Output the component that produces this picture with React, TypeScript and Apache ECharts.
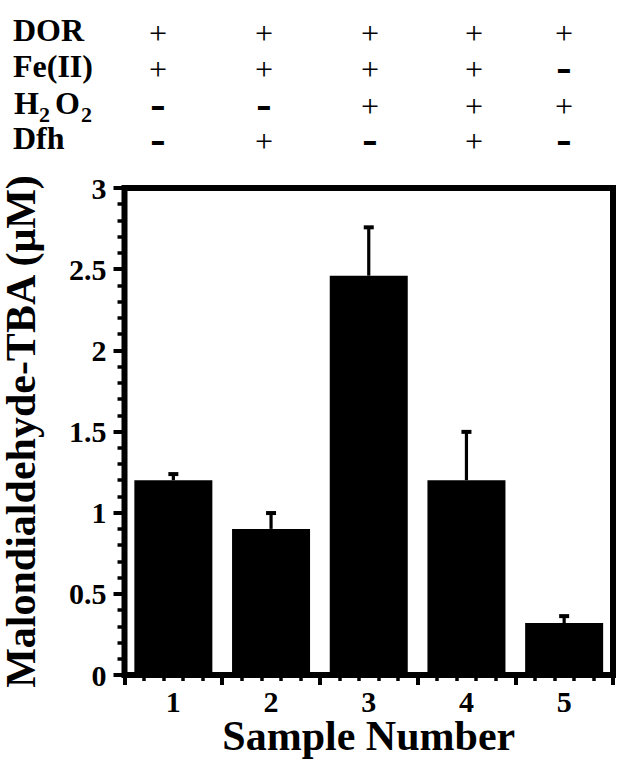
import React, { useEffect, useRef } from "react";
import * as echarts from "echarts";

const categories = ["1", "2", "3", "4", "5"];
const values = [1.2, 0.9, 2.46, 1.2, 0.32];
const errors = [0.05, 0.11, 0.31, 0.31, 0.055];
const conditionLabels = ["DOR", "Fe(II)", "H2O2", "Dfh"];
const conditionSigns = [
  ["+", "+", "+", "+", "+"],
  ["+", "+", "+", "+", "-"],
  ["-", "-", "+", "+", "+"],
  ["-", "+", "-", "+", "-"],
];

const FONT = '"Liberation Serif", "Times New Roman", serif';
const ROW_Y = [30, 66, 103, 138];
const COL_X = [158, 264, 370, 474, 564];

export default function App() {
  const ref = useRef<HTMLDivElement>(null);

  useEffect(() => {
    document.body.style.margin = "0";
    const chart = echarts.init(ref.current!, null, { renderer: "svg" });

    const graphics: any[] = [];
    conditionLabels.forEach((lab, r) => {
      if (lab === "H2O2") {
        const parts = [
          { t: "H", x: 14, sub: false },
          { t: "2", x: 39, sub: true },
          { t: "O", x: 55, sub: false },
          { t: "2", x: 81, sub: true },
        ];
        parts.forEach((p) =>
          graphics.push({
            type: "text",
            x: p.x,
            y: ROW_Y[r] + (p.sub ? 11 : 0),
            style: {
              text: p.t,
              font: `bold ${p.sub ? 22 : 32}px ${FONT}`,
              lineHeight: p.sub ? 18 : 30,
              fill: "#000",
              textAlign: "left",
              textVerticalAlign: "middle",
            },
          })
        );
      } else {
        graphics.push({
          type: "text",
          x: 13,
          y: ROW_Y[r],
          style: {
            text: lab,
            font: `bold 32px ${FONT}`,
            lineHeight: 30,
            fill: "#000",
            textAlign: "left",
            textVerticalAlign: "middle",
          },
        });
      }
      conditionSigns[r].forEach((s, c) => {
        graphics.push({
          type: "text",
          x: COL_X[c],
          y: ROW_Y[r] + (s === "+" ? 3 : 0),
          style: {
            text: s,
            font: s === "+" ? `32px ${FONT}` : `bold 46px ${FONT}`,
            lineHeight: 24,
            fill: "#000",
            textAlign: "center",
            textVerticalAlign: "middle",
          },
        });
      });
    });

    chart.setOption({
      animation: false,
      backgroundColor: "#fff",
      grid: {
        left: 124.5,
        right: 15,
        top: 188,
        bottom: 88,
        outerBoundsMode: "none",
        containLabel: false,
        show: true,
        borderColor: "#000",
        borderWidth: 6,
        backgroundColor: "transparent",
      },
      graphic: graphics,
      xAxis: [
        {
          type: "category",
          data: categories,
          position: "bottom",
          axisLine: { show: false, onZero: false },
          axisTick: { show: false },
          axisLabel: {
            color: "#000",
            fontFamily: FONT,
            fontWeight: "bold",
            fontSize: 30,
            lineHeight: 30,
            margin: 11,
          },
          name: "Sample Number",
          nameLocation: "middle",
          nameGap: 41,
          nameMoveOverlap: false,
          nameTextStyle: {
            color: "#000",
            fontFamily: FONT,
            fontWeight: "bold",
            fontSize: 42,
            lineHeight: 40,
          },
          splitLine: { show: false },
        },
        {
          type: "value",
          min: 0,
          max: 5,
          interval: 1,
          position: "bottom",
          axisLine: { show: false, onZero: false },
          axisLabel: { show: false },
          axisTick: { show: true, length: 10, lineStyle: { color: "#000", width: 4 } },
          minorTick: { show: true, splitNumber: 5, length: 6, lineStyle: { color: "#000", width: 3.5 } },
          splitLine: { show: false },
          minorSplitLine: { show: false },
        },
      ],
      yAxis: {
        type: "value",
        min: 0,
        max: 3,
        interval: 0.5,
        axisLine: { show: false, onZero: false },
        axisTick: { show: true, length: 11, lineStyle: { color: "#000", width: 4 } },
        minorTick: { show: true, splitNumber: 5, length: 7, lineStyle: { color: "#000", width: 3.5 } },
        splitLine: { show: false },
        minorSplitLine: { show: false },
        axisLabel: {
          color: "#000",
          fontFamily: FONT,
          fontWeight: "bold",
          fontSize: 30,
          margin: 18,
        },
        name: "Malondialdehyde-TBA (μM)",
        nameLocation: "middle",
        nameGap: 84,
        nameMoveOverlap: false,
        nameTextStyle: {
          color: "#000",
          fontFamily: FONT,
          fontWeight: "bold",
          fontSize: 42,
          lineHeight: 40,
        },
      },
      series: [
        {
          type: "bar",
          xAxisIndex: 0,
          data: values,
          barWidth: 78,
          itemStyle: { color: "#000" },
          z: 2,
        },
        {
          type: "custom",
          xAxisIndex: 0,
          z: 3,
          data: values.map((v, i) => [i, v, errors[i]]),
          renderItem: (params: any, api: any) => {
            const i = api.value(0);
            const v = api.value(1);
            const e = api.value(2);
            const base = api.coord([i, v]);
            const top = api.coord([i, v + e]);
            return {
              type: "group",
              children: [
                {
                  type: "line",
                  shape: { x1: base[0], y1: base[1], x2: base[0], y2: top[1] + 2 },
                  style: { stroke: "#000", lineWidth: 3.2 },
                },
                {
                  type: "rect",
                  shape: { x: top[0] - 5, y: top[1], width: 10, height: 4 },
                  style: { fill: "#000" },
                },
              ],
            };
          },
        },
      ],
    });

    return () => chart.dispose();
  }, []);

  return <div ref={ref} style={{ width: 628, height: 763 }} />;
}
